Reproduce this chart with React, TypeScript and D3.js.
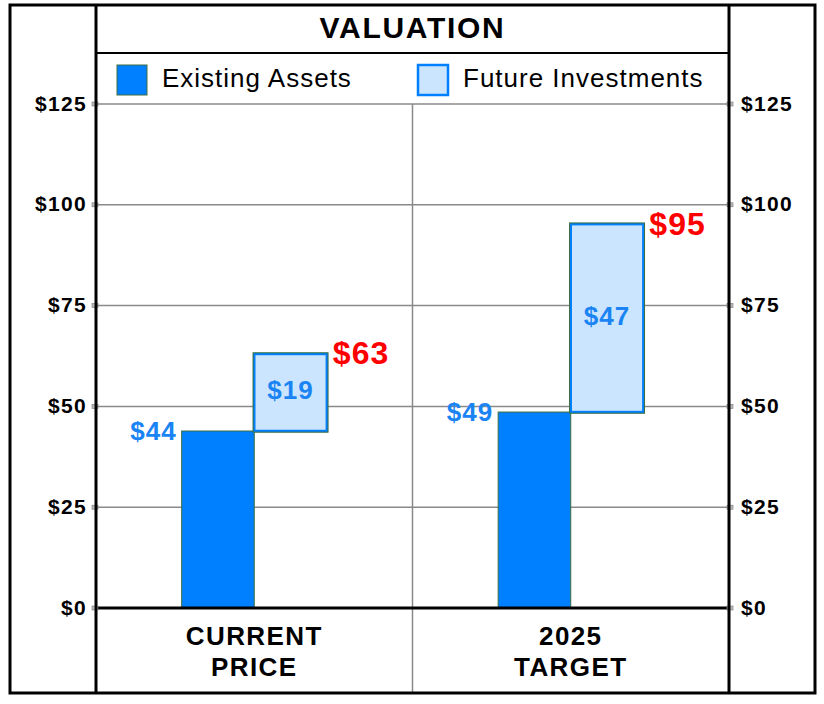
import React from 'react';
import * as d3 from 'd3';

// categories and values
const categories = ['CURRENT\nPRICE', '2025\nTARGET'];
const existingAssets = [43.9, 48.6];
const futureInvestments = [19.1, 46.6];
const existingLabels = ['$44', '$49'];
const futureLabels = ['$19', '$47'];
const totalLabels = ['$63', '$95'];
const yTicks = [0, 25, 50, 75, 100, 125];
const seriesNames = ['Existing Assets', 'Future Investments'];

const W = 824;
const H = 704;
const FONT = '"Liberation Sans", Arial, Helvetica, sans-serif';
const BLUE = '#0080ff';
const LIGHT = '#cce5ff';
const LABEL_BLUE = '#1a84f4';

const App: React.FC = () => {
  const plot = { left: 96, right: 729, top: 104, bottom: 608 };
  const box = { left: 10, right: 815, top: 5, bottom: 693 };

  const y = d3.scaleLinear().domain([0, 125]).range([plot.bottom, plot.top]);
  const x = d3.scaleBand<string>()
    .domain(categories)
    .range([plot.left, plot.right])
    .paddingInner(0)
    .paddingOuter(0);
  const inner = d3.scaleBand<string>()
    .domain(seriesNames)
    .range([0, x.bandwidth()])
    .paddingInner(0)
    .paddingOuter(1.18);

  const bw = inner.bandwidth();

  return (
    <svg width={W} height={H} style={{ position: 'absolute', left: 0, top: 0, background: '#fff' }} fontFamily={FONT}>
      {/* grid lines */}
      {yTicks.filter(t => t > 0).map(t => (
        <line key={t} x1={plot.left} x2={plot.right} y1={y(t)} y2={y(t)} stroke="#8a8a8a" strokeWidth={1.5} />
      ))}
      {/* center divider */}
      <line x1={(plot.left + plot.right) / 2} x2={(plot.left + plot.right) / 2} y1={plot.top} y2={box.bottom}
        stroke="#8a8a8a" strokeWidth={1.5} />

      {/* bars */}
      {categories.map((c, i) => {
        const x0 = (x(c) as number);
        const xe = x0 + (inner(seriesNames[0]) as number);
        const xf = x0 + (inner(seriesNames[1]) as number);
        const eTop = y(existingAssets[i]);
        const fTop = y(existingAssets[i] + futureInvestments[i]);
        return (
          <g key={c}>
            <rect x={xe} y={eTop} width={bw} height={plot.bottom - eTop} fill={BLUE} stroke="#3d6e3d" strokeWidth={1} />
            <rect x={xf} y={fTop} width={bw} height={eTop - fTop} fill={LIGHT} stroke={BLUE} strokeWidth={2.5} />
            <rect x={xf - 1.2} y={fTop - 1.2} width={bw + 2.4} height={eTop - fTop + 2.4} fill="none" stroke="#3d6e3d" strokeWidth={1} />
            <text x={xe - 5} y={eTop + 2} textAnchor="end" dominantBaseline="middle" fill={LABEL_BLUE}
              fontWeight="bold" fontSize={26} letterSpacing={1}>{existingLabels[i]}</text>
            <text x={xf + bw / 2} y={(eTop + fTop) / 2} textAnchor="middle" dominantBaseline="middle" fill={LABEL_BLUE}
              fontWeight="bold" fontSize={26} letterSpacing={1}>{futureLabels[i]}</text>
            <text x={xf + bw + 6} y={fTop + 2} dominantBaseline="middle" fill="#ff0000"
              fontWeight="bold" fontSize={32} letterSpacing={1}>{totalLabels[i]}</text>
            {c.split('\n').map((line, k) => (
              <text key={k} x={x0 + x.bandwidth() / 2} y={638 + k * 31} textAnchor="middle" dominantBaseline="middle"
                fontWeight="bold" fontSize={26} letterSpacing={1.4} fill="#000">{line}</text>
            ))}
          </g>
        );
      })}

      {/* zero line */}
      <line x1={plot.left} x2={plot.right} y1={y(0)} y2={y(0)} stroke="#000" strokeWidth={3} />

      {/* axis ticks and labels */}
      {yTicks.map(t => (
        <g key={t}>
          <rect x={plot.left - 4} y={y(t) - 2} width={6} height={4} fill="#bbb" stroke="#777" strokeWidth={0.6} />
          <rect x={plot.right - 2} y={y(t) - 2} width={6} height={4} fill="#bbb" stroke="#777" strokeWidth={0.6} />
          <text x={plot.left - 9} y={y(t) + 1} textAnchor="end" dominantBaseline="middle" fontWeight="bold" fontSize={21} letterSpacing={1.3}>
            {d3.format('$')(t)}
          </text>
          <text x={plot.right + 12} y={y(t) + 1} dominantBaseline="middle" fontWeight="bold" fontSize={21} letterSpacing={1.3}>
            {d3.format('$')(t)}
          </text>
        </g>
      ))}

      {/* frame */}
      <rect x={box.left} y={box.top} width={box.right - box.left} height={box.bottom - box.top} fill="none" stroke="#000" strokeWidth={3} />
      <line x1={plot.left} x2={plot.left} y1={box.top} y2={box.bottom} stroke="#000" strokeWidth={3} />
      <line x1={plot.right} x2={plot.right} y1={box.top} y2={box.bottom} stroke="#000" strokeWidth={3} />
      <line x1={plot.left} x2={plot.right} y1={53} y2={53} stroke="#000" strokeWidth={2} />

      {/* title */}
      <text x={(plot.left + plot.right) / 2} y={30} textAnchor="middle" dominantBaseline="middle" fontWeight="bold" fontSize={30} letterSpacing={1.7}>
        VALUATION
      </text>

      {/* legend */}
      {seriesNames.map((s, i) => {
        const lx = i === 0 ? 117 : 418;
        return (
          <g key={s}>
            <rect x={lx} y={65} width={30} height={30} fill={i === 0 ? BLUE : LIGHT} stroke={i === 0 ? '#3d6e3d' : BLUE} strokeWidth={i === 0 ? 1 : 2.5} />
            <text x={lx + 45} y={80} dominantBaseline="middle" fontSize={26} letterSpacing={1}>{s}</text>
          </g>
        );
      })}
    </svg>
  );
};

export default App;
